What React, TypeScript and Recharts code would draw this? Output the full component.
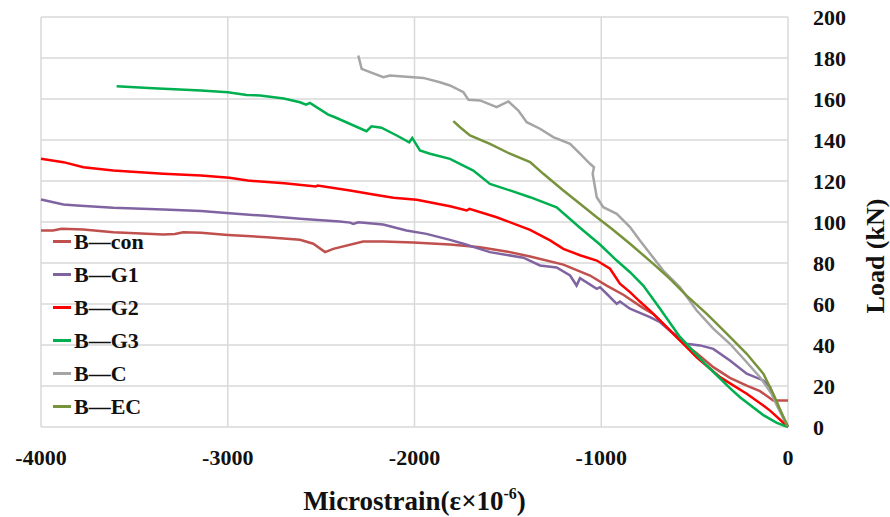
import { LineChart, Line, XAxis, YAxis, CartesianGrid, Legend } from "recharts";

// [microstrain, load kN]
const bCon: [number, number][] = [
  [-4000, 95.9], [-3936, 95.9], [-3889, 96.7], [-3773, 96.3], [-3613, 95], [-3345, 93.9],
  [-3283, 94.2], [-3238, 95], [-3143, 94.7], [-2999, 93.7], [-2791, 92.6], [-2613, 91.3],
  [-2542, 89.4], [-2479, 85.3], [-2435, 86.9], [-2275, 90.5], [-2168, 90.5], [-2007, 90],
  [-1810, 89], [-1649, 87.7], [-1500, 85.5], [-1381, 83.2], [-1203, 79.2], [-1060, 73.9],
  [-971, 69], [-882, 64.5], [-775, 58], [-720, 55], [-578, 42.2], [-489, 36], [-400, 29.2],
  [-311, 24], [-221, 20.2], [-150, 17.5], [-79, 12.9], [0, 12.9],
];
const bG1: [number, number][] = [
  [-4000, 111], [-3880, 108.5], [-3809, 108], [-3613, 106.9], [-3345, 106.1], [-3143, 105.4],
  [-2991, 104.3], [-2800, 103], [-2613, 101.6], [-2400, 100.2], [-2345, 99.7], [-2328, 99.1],
  [-2301, 99.9], [-2168, 98.8], [-2043, 95.9], [-1936, 94.2], [-1810, 91.3], [-1738, 89.4],
  [-1596, 85.3], [-1417, 82.6], [-1328, 78.8], [-1239, 77.8], [-1167, 73.9], [-1132, 69],
  [-1114, 72.6], [-1024, 67.4], [-1007, 68.2], [-971, 65], [-917, 60.1], [-900, 61.2],
  [-846, 57.7], [-793, 55.7], [-739, 53.6], [-685, 51.1], [-620, 46], [-578, 43.8],
  [-543, 40.6], [-471, 39.8], [-400, 38.1], [-311, 32.4], [-221, 26], [-132, 22.7],
  [-96, 19.4], [-70, 12.9], [0, 0],
];
const bG2: [number, number][] = [
  [-4000, 130.8], [-3880, 129.2], [-3773, 126.7], [-3613, 125.1], [-3345, 123.5], [-3143, 122.7],
  [-2991, 121.6], [-2893, 120.2], [-2697, 118.9], [-2528, 117.3], [-2519, 117.8], [-2345, 115.4],
  [-2220, 113.4], [-2113, 111.8], [-1988, 110.8], [-1810, 107.7], [-1720, 105.6], [-1706, 106.4],
  [-1560, 102.3], [-1381, 96.2], [-1274, 91], [-1203, 86.9], [-1114, 83.8], [-1024, 81.2],
  [-953, 77.2], [-900, 69.9], [-846, 65.8], [-793, 61.2], [-739, 56.8], [-703, 53.6],
  [-596, 43.8], [-489, 34], [-364, 24.3], [-221, 16.2], [-132, 10.5], [-96, 8], [0, 0],
];
const bG3: [number, number][] = [
  [-3595, 166.2], [-3400, 165.3], [-3143, 164.1], [-2999, 163.3], [-2899, 162], [-2827, 161.7],
  [-2700, 160.2], [-2613, 158.4], [-2581, 157.2], [-2560, 158.1], [-2462, 152.4], [-2426, 151.1],
  [-2257, 144.3], [-2230, 146.7], [-2177, 146], [-2095, 142.2], [-2028, 138.9], [-2012, 141],
  [-1971, 134.9], [-1917, 133.3], [-1810, 130.8], [-1685, 125.1], [-1596, 118.6], [-1489, 115.4],
  [-1381, 112.1], [-1239, 107.2], [-1114, 97.2], [-1007, 89], [-917, 81.2], [-846, 75.5],
  [-775, 69], [-685, 57.7], [-578, 43.8], [-435, 30], [-311, 19], [-257, 14.5], [-132, 5.8],
  [-60, 2], [0, 0],
];
const bC: [number, number][] = [
  [-2301, 181.2], [-2292, 178], [-2283, 174.7], [-2238, 173.1], [-2167, 170.6], [-2131, 171.5],
  [-1953, 170.3], [-1864, 168.2], [-1810, 166.6], [-1738, 163.3], [-1711, 159.6], [-1649, 159.3],
  [-1560, 156], [-1533, 157.3], [-1497, 158.8], [-1444, 154.4], [-1399, 148.7], [-1328, 145.5],
  [-1257, 141.4], [-1167, 138.1], [-1114, 133.3], [-1060, 128.4], [-1039, 126.7], [-1046, 123.5],
  [-1024, 112.1], [-989, 107.2], [-917, 104], [-846, 97.5], [-793, 91], [-668, 76.3],
  [-578, 68.2], [-489, 56.8], [-400, 48], [-311, 40.6], [-221, 31.6], [-150, 24.3],
  [-88, 16.2], [-55, 9.7], [0, 0],
];
const bEC: [number, number][] = [
  [-1792, 149.2], [-1756, 146.2], [-1703, 142.2], [-1596, 138.1], [-1489, 133.3], [-1381, 129.2],
  [-1310, 123.5], [-1203, 115.4], [-1114, 108.9], [-1024, 102.3], [-944, 96.7], [-846, 89.4],
  [-721, 79.6], [-632, 72.3], [-543, 64.1], [-435, 55.2], [-328, 45.5], [-221, 35.7],
  [-132, 26], [-79, 16.2], [-40, 8], [0, 0],
];

const seriesNames = ["B\u2014con", "B\u2014G1", "B\u2014G2", "B\u2014G3", "B\u2014C", "B\u2014EC"];
const seriesData = [bCon, bG1, bG2, bG3, bC, bEC];
const colors = ["#C0504D", "#8064A2", "#FF0000", "#00B050", "#A5A5A5", "#77933C"];

const xTicks = [-4000, -3000, -2000, -1000, 0];
const yTicks = [0, 20, 40, 60, 80, 100, 120, 140, 160, 180, 200];

const font = "'Liberation Serif', 'Times New Roman', serif";

const toPoints = (arr: [number, number][]) => arr.map(([x, y]) => ({ x, y }));

const XLabel = (props: any) => {
  const vb = props.viewBox;
  const cx = vb.x + vb.width / 2;
  return (
    <text x={cx} y={vb.y + 83} textAnchor="middle" fontFamily={font} fontWeight="bold" fontSize={27} fill="#111">
      Microstrain(ε×10
      <tspan dy={-11} fontSize={16}>-6</tspan>
      <tspan dy={11}>)</tspan>
    </text>
  );
};

const YLabel = (props: any) => {
  const vb = props.viewBox;
  const x = vb.x + 87;
  const y = vb.y + vb.height / 2 + 34;
  return (
    <text x={x} y={y} transform={`rotate(-90 ${x} ${y})`} textAnchor="middle" dominantBaseline="central"
      fontFamily={font} fontWeight="bold" fontSize={26} fill="#111">
      Load (kN)
    </text>
  );
};

const LegendBox = () => (
  <div style={{ fontFamily: font, fontWeight: "bold", fontSize: 22, color: "#111" }}>
    {seriesNames.map((n, i) => (
      <div key={n} style={{ display: "flex", alignItems: "center", height: 33 }}>
        <span style={{ display: "inline-block", width: 18, height: 2.5, background: colors[i], marginRight: 3 }} />
        <span>{n}</span>
      </div>
    ))}
  </div>
);

export default function App() {
  return (
    <div style={{ position: "absolute", left: 0, top: 0, background: "#fff" }}>
      <LineChart width={890} height={517} margin={{ top: 17, right: 42, bottom: 30, left: 41 }}>
        <CartesianGrid stroke="#D9D9D9" strokeWidth={1.5} />
        <XAxis
          type="number"
          dataKey="x"
          domain={[-4000, 0]}
          ticks={xTicks}
          axisLine={false}
          tickLine={false}
          tickSize={0}
          tickMargin={22}
          height={60}
          tick={{ fontFamily: font, fontWeight: "bold", fontSize: 22, fill: "#111" }}
          label={XLabel}
        />
        <YAxis
          type="number"
          orientation="right"
          domain={[0, 200]}
          ticks={yTicks}
          axisLine={false}
          tickLine={false}
          tickSize={0}
          tickMargin={25}
          width={60}
          tick={{ fontFamily: font, fontWeight: "bold", fontSize: 22, fill: "#111", textAnchor: "start" }}
          label={YLabel}
        />
        <Legend
          layout="vertical"
          align="center"
          verticalAlign="middle"
          content={LegendBox}
          wrapperStyle={{ position: "absolute", left: 53, top: 225, width: 150 }}
        />
        {seriesData.map((d, i) => (
          <Line
            key={seriesNames[i]}
            data={toPoints(d)}
            dataKey="y"
            name={seriesNames[i]}
            type="linear"
            stroke={colors[i]}
            strokeWidth={2.5}
            dot={false}
            isAnimationActive={false}
          />
        ))}
      </LineChart>
    </div>
  );
}
